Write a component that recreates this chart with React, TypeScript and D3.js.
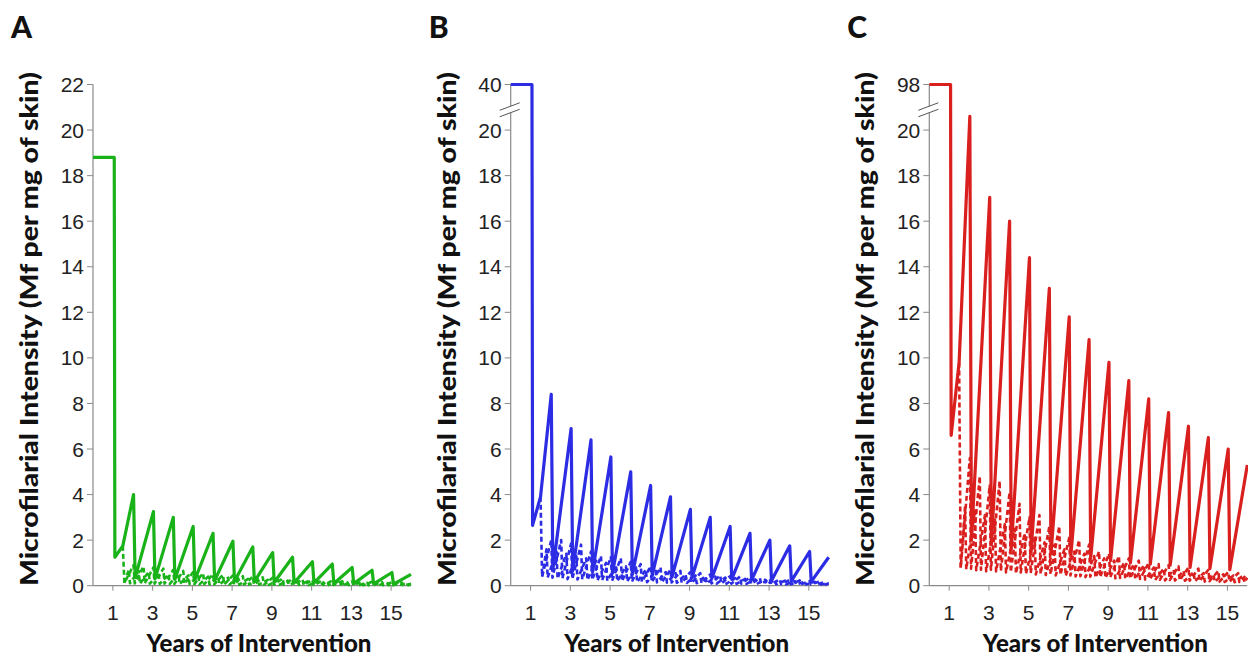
import React from 'react'
import * as d3 from 'd3'

// tick labels
const xTickYears = [1, 3, 5, 7, 9, 11, 13, 15]
const yTickValues = [0, 2, 4, 6, 8, 10, 12, 14, 16, 18, 20]
const panelLetters = ['A', 'B', 'C']
const topTickLabels = ['22', '40', '98']

// annual treatment (solid): pre-control level, first dip, split point, peaks/troughs per year, end
const aStart = [18.8, 1.25, 1.75, 0.5]
const aSolidPeaks = [4.0, 3.25, 3.0, 2.6, 2.3, 1.95, 1.7, 1.45, 1.25, 1.05, 0.95, 0.8, 0.68, 0.58]
const aSolidTroughs = [0.35, 0.3, 0.28, 0.25, 0.22, 0.2, 0.18, 0.15, 0.13, 0.12, 0.1, 0.09, 0.08, 0.07]
const aDash1Peaks = [0.9, 0.85, 0.8, 0.75, 0.7, 0.65, 0.6, 0.55, 0.5, 0.48, 0.45, 0.42, 0.4, 0.37, 0.35, 0.32, 0.3, 0.28, 0.26, 0.24, 0.22, 0.2, 0.19, 0.18, 0.17, 0.16, 0.15, 0.14]
const aDash2Peaks = [0.7, 0.65, 0.6, 0.55, 0.5, 0.5, 0.45, 0.42, 0.4, 0.38, 0.35, 0.33, 0.3, 0.28, 0.26, 0.24, 0.22, 0.2, 0.19, 0.18, 0.17, 0.16, 0.15, 0.14, 0.13, 0.12, 0.12, 0.11, 0.1]
const aDashTroughs = [0.12, 0.1, 0.1, 0.09, 0.09, 0.08, 0.08, 0.07, 0.07, 0.06, 0.06, 0.05, 0.05, 0.05, 0.04, 0.04, 0.04, 0.04, 0.03, 0.03, 0.03, 0.03, 0.03, 0.02, 0.02, 0.02, 0.02, 0.02, 0.02]
const aDashEnds = [0.08, 0.06]

const bStart = [40, 2.65, 3.9, 1.25]
const bSolidPeaks = [8.4, 6.9, 6.4, 5.65, 5.0, 4.4, 3.9, 3.35, 3.0, 2.6, 2.3, 2.0, 1.75, 1.5]
const bSolidTroughs = [0.7, 0.65, 0.6, 0.55, 0.5, 0.45, 0.4, 0.35, 0.32, 0.28, 0.25, 0.22, 0.2, 0.18]
const bDash1Peaks = [2.0, 2.0, 1.85, 1.8, 1.5, 1.3, 1.25, 1.2, 1.05, 0.95, 0.85, 0.8, 0.7, 0.65, 0.6, 0.55, 0.5, 0.45, 0.42, 0.4, 0.36, 0.33, 0.3, 0.28, 0.25, 0.23, 0.2, 0.18]
const bDash2Peaks = [1.6, 1.5, 1.4, 1.3, 1.2, 1.1, 1.0, 0.9, 0.85, 0.8, 0.7, 0.65, 0.6, 0.55, 0.5, 0.45, 0.42, 0.4, 0.36, 0.33, 0.3, 0.28, 0.26, 0.24, 0.22, 0.2, 0.18, 0.17, 0.16]
const bDashTroughs = [0.4, 0.35, 0.32, 0.3, 0.28, 0.26, 0.24, 0.22, 0.2, 0.18, 0.17, 0.16, 0.15, 0.14, 0.13, 0.12, 0.11, 0.1, 0.1, 0.09, 0.09, 0.08, 0.08, 0.07, 0.07, 0.06, 0.06, 0.06, 0.05]
const bDashEnds = [0.12, 0.1]

const cStart = [98, 6.6, 9.8, 5.3]
const cSolidPeaks = [20.6, 17.05, 16.0, 14.4, 13.05, 11.8, 10.8, 9.8, 9.0, 8.2, 7.6, 7.0, 6.5, 6.0]
const cSolidTroughs = [2.0, 1.8, 1.6, 1.5, 1.4, 1.3, 1.2, 1.1, 1.0, 0.95, 0.9, 0.8, 0.75, 0.7]
const cDash1Peaks = [5.6, 4.8, 4.4, 4.6, 4.1, 3.6, 3.0, 3.1, 2.6, 2.6, 2.1, 2.0, 1.8, 1.5, 1.4, 1.3, 1.2, 1.1, 1.0, 0.95, 0.9, 0.85, 0.8, 0.75, 0.7, 0.65, 0.6, 0.55]
const cDash2Peaks = [3.5, 3.3, 3.1, 2.9, 2.7, 2.5, 2.3, 2.1, 1.9, 1.8, 1.6, 1.5, 1.4, 1.3, 1.2, 1.1, 1.0, 0.95, 0.9, 0.8, 0.75, 0.7, 0.65, 0.6, 0.55, 0.5, 0.5, 0.45, 0.45]
const cDashTroughs = [0.8, 0.75, 0.7, 0.7, 0.65, 0.6, 0.58, 0.55, 0.52, 0.5, 0.48, 0.45, 0.42, 0.4, 0.38, 0.36, 0.34, 0.32, 0.3, 0.28, 0.26, 0.25, 0.24, 0.22, 0.2, 0.2, 0.18, 0.17, 0.16]
const cDashEnds = [0.5, 0.35]

const panels = [
  { start: aStart, sp: aSolidPeaks, st: aSolidTroughs, d1: aDash1Peaks, d2: aDash2Peaks, dt: aDashTroughs, de: aDashEnds, color: '#19b219', left: 93, broken: false },
  { start: bStart, sp: bSolidPeaks, st: bSolidTroughs, d1: bDash1Peaks, d2: bDash2Peaks, dt: bDashTroughs, de: bDashEnds, color: '#2c2ce4', left: 510.7, broken: true },
  { start: cStart, sp: cSolidPeaks, st: cSolidTroughs, d1: cDash1Peaks, d2: cDash2Peaks, dt: cDashTroughs, de: cDashEnds, color: '#da1f1f', left: 929.3, broken: true },
]

const top = 84.5
const bottom = 585.7
const plotW = 318

function solidPoints (p) {
  const [base, dip, split, end] = p.start
  const pts = [[0, base], [1.07, base], [1.1, dip], [1.5, split]]
  p.sp.forEach((v, i) => {
    pts.push([i + 2.04, v])
    pts.push([i + 2.12, p.st[i]])
  })
  pts.push([16, end])
  return pts
}

function dash1Points (p) {
  const pts = [[1.5, p.start[2]], [1.58, p.dt[0]]]
  p.d1.forEach((v, k) => {
    pts.push([2.04 + 0.5 * k, v])
    pts.push([2.1 + 0.5 * k, p.dt[k + 1]])
  })
  pts.push([16, p.de[0]])
  return pts
}

function dash2Points (p) {
  const pts = [[1.58, p.dt[0]]]
  p.d2.forEach((v, k) => {
    pts.push([1.8 + 0.5 * k, v])
    pts.push([1.86 + 0.5 * k, p.dt[k] * 0.9])
  })
  pts.push([16, p.de[1]])
  return pts
}

const tickFont = '"Liberation Sans", Arial, sans-serif'
const titleFont = 'Lato, "Open Sans", sans-serif'

function Panel ({ p, idx }) {
  const x = d3.scaleLinear().domain([0, 16]).range([p.left, p.left + plotW])
  const yBase = d3.scaleLinear().domain([0, 22]).range([bottom, top])
  const y = v => (p.broken && v > 21 ? yBase(22) : yBase(v))
  const line = d3.line().x(d => x(d[0])).y(d => y(d[1]))
  const axisColor = '#8a8a8a'
  const ticks = p.broken ? yTickValues : [...yTickValues, 22]
  const brkY = yBase(21) - 1
  const xMid = (x(0) + x(16)) / 2 + 7
  return (
    <g>
      <text x={p.left - 82} y={38} fontFamily={titleFont} fontWeight={900} fontSize={30} fill="#111">{panelLetters[idx]}</text>
      <line x1={x(0)} x2={x(0)} y1={top} y2={bottom} stroke={axisColor} strokeWidth={1.2} />
      <line x1={x(0)} x2={x(16)} y1={bottom} y2={bottom} stroke={axisColor} strokeWidth={1.2} />
      {ticks.map(t => (
        <g key={'y' + t}>
          <line x1={x(0) - 6} x2={x(0)} y1={yBase(t)} y2={yBase(t)} stroke={axisColor} strokeWidth={1} />
          <text x={x(0) - 9} y={yBase(t)} dy="0.36em" textAnchor="end" fontFamily={tickFont} fontSize={21} fill="#222">{t}</text>
        </g>
      ))}
      {p.broken && (
        <g>
          <line x1={x(0) - 6} x2={x(0)} y1={yBase(22)} y2={yBase(22)} stroke={axisColor} strokeWidth={1} />
          <text x={x(0) - 9} y={yBase(22)} dy="0.36em" textAnchor="end" fontFamily={tickFont} fontSize={21} fill="#222">{topTickLabels[idx]}</text>
          <polygon points={`${x(0) - 11},${brkY + 4} ${x(0) + 9},${brkY - 3.5} ${x(0) + 9},${brkY + 3} ${x(0) - 11},${brkY + 10.5}`} fill="#fff" />
          <line x1={x(0) - 11} y1={brkY + 4} x2={x(0) + 9} y2={brkY - 3.5} stroke="#555" strokeWidth={1} />
          <line x1={x(0) - 11} y1={brkY + 10.5} x2={x(0) + 9} y2={brkY + 3} stroke="#555" strokeWidth={1} />
        </g>
      )}
      {xTickYears.map(t => (
        <g key={'x' + t}>
          <line x1={x(t)} x2={x(t)} y1={bottom} y2={bottom + 5} stroke={axisColor} strokeWidth={1} />
          <text x={x(t)} y={620} textAnchor="middle" fontFamily={tickFont} fontSize={21} fill="#222">{t}</text>
        </g>
      ))}
      <path d={line(dash2Points(p))} fill="none" stroke={p.color} strokeWidth={2.6} strokeDasharray="5,3" strokeLinejoin="round" />
      <path d={line(dash1Points(p))} fill="none" stroke={p.color} strokeWidth={2.6} strokeDasharray="5,3" strokeLinejoin="round" />
      <path d={line(solidPoints(p))} fill="none" stroke={p.color} strokeWidth={3.2} strokeLinejoin="round" />
      <text transform={`translate(${p.left - 55},${(top + bottom) / 2 - 6}) rotate(-90)`} textAnchor="middle" fontFamily={titleFont} fontWeight={900} fontSize={25} textLength={514} lengthAdjust="spacingAndGlyphs" fill="#111">
        Microfilarial Intensity (Mf per mg of skin)
      </text>
      <text x={xMid} y={652} textAnchor="middle" fontFamily={titleFont} fontWeight={900} fontSize={24} textLength={225} lengthAdjust="spacingAndGlyphs" fill="#111">Years of Intervention</text>
    </g>
  )
}

export default function App () {
  return (
    <svg width={1248} height={659} viewBox="0 0 1248 659" style={{ position: 'absolute', left: 0, top: 0, background: '#fff' }}>
      <rect width={1248} height={659} fill="#fff" />
      {panels.map((p, i) => <Panel key={i} p={p} idx={i} />)}
    </svg>
  )
}
